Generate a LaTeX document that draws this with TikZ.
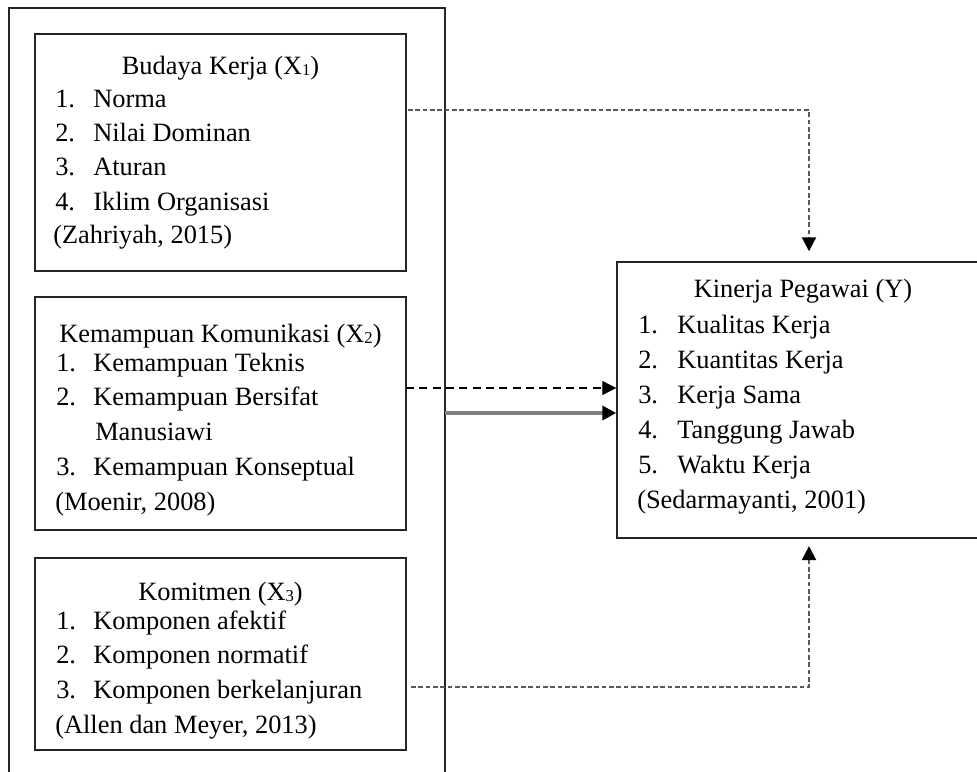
\documentclass[tikz,border=0pt]{standalone}
\usepackage{fontspec}
\setmainfont{Liberation Serif}
\usetikzlibrary{arrows.meta,fit}
\newcommand{\mysub}[1]{{\fontsize{12.5}{12.5}\selectfont\raisebox{-1.2pt}{#1}}}
\begin{document}
\begin{tikzpicture}[x=0.75pt,y=-0.75pt,
  box/.style={draw=black!85,line width=1.1pt,inner sep=0pt,fill=none},
  txt/.style={anchor=base west,inner sep=0pt,font=\fontsize{19.8}{24}\selectfont},
  ttl/.style={anchor=base,inner sep=0pt,font=\fontsize{19.8}{24}\selectfont},
  tip/.style={-{Triangle[length=10.5pt,width=10.5pt,color=black,fill=black]}},
  dense/.style={draw=black!65,line width=1.6pt,dash pattern=on 3.5pt off 2pt},
  mid/.style={draw=black,line width=1pt,dash pattern=on 6pt off 4pt},
  solidgray/.style={draw=black!50,line width=3pt}]
\clip (0,0) rectangle (977,771);
\fill[white] (0,0) rectangle (977,771);
% boxes
\node[box,fit={(9,8) (445,800)}] (outer) {};
\node[box,fit={(35,34) (406,271)}] (b1) {};
\node[box,fit={(35,297) (406,530)}] (b2) {};
\node[box,fit={(35,558) (406,750)}] (b3) {};
\node[box,fit={(617,262) (989,538)}] (Y) {};
% box 1
\node[ttl] (b1t) at (220.5,74) {Budaya Kerja (X\mysub{1})};
\node[txt] (b1n1) at (55,107) {1.}; \node[txt] (b1i1) at (93,107) {Norma};
\node[txt] (b1n2) at (55,141) {2.}; \node[txt] (b1i2) at (93,141) {Nilai Dominan};
\node[txt] (b1n3) at (55,175) {3.}; \node[txt] (b1i3) at (93,175) {Aturan};
\node[txt] (b1n4) at (55,210) {4.}; \node[txt] (b1i4) at (93,210) {Iklim Organisasi};
\node[txt] (b1c) at (53,243) {(Zahriyah, 2015)};
% box 2
\node[ttl] (b2t) at (220.5,342) {Kemampuan Komunikasi (X\mysub{2})};
\node[txt] (b2n1) at (56,371) {1.}; \node[txt] (b2i1) at (93,371) {Kemampuan Teknis};
\node[txt] (b2n2) at (56,405) {2.}; \node[txt] (b2i2) at (93,405) {Kemampuan Bersifat};
\node[txt] (b2i2b) at (95,440) {Manusiawi};
\node[txt] (b2n3) at (56,475) {3.}; \node[txt] (b2i3) at (93,475) {Kemampuan Konseptual};
\node[txt] (b2c) at (55,510) {(Moenir, 2008)};
% box 3
\node[ttl] (b3t) at (220.5,600) {Komitmen (X\mysub{3})};
\node[txt] (b3n1) at (56,629) {1.}; \node[txt] (b3i1) at (93,629) {Komponen afektif};
\node[txt] (b3n2) at (56,663) {2.}; \node[txt] (b3i2) at (93,663) {Komponen normatif};
\node[txt] (b3n3) at (56,698) {3.}; \node[txt] (b3i3) at (93,698) {Komponen berkelanjuran};
\node[txt] (b3c) at (55,733) {(Allen dan Meyer, 2013)};
% Y box
\node[ttl] (Yt) at (803,297) {Kinerja Pegawai (Y)};
\node[txt] (Yn1) at (638,333) {1.}; \node[txt] (Yi1) at (677,333) {Kualitas Kerja};
\node[txt] (Yn2) at (638,368) {2.}; \node[txt] (Yi2) at (677,368) {Kuantitas Kerja};
\node[txt] (Yn3) at (638,403) {3.}; \node[txt] (Yi3) at (677,403) {Kerja Sama};
\node[txt] (Yn4) at (638,438) {4.}; \node[txt] (Yi4) at (677,438) {Tanggung Jawab};
\node[txt] (Yn5) at (638,473) {5.}; \node[txt] (Yi5) at (677,473) {Waktu Kerja};
\node[txt] (Yc) at (637,508) {(Sedarmayanti, 2001)};
% connectors
\coordinate (c1) at (809,110);
\coordinate (c1s) at (408,110);
\draw[dense,tip] (c1s) -- (c1) -- ([yshift=7.5pt]Y.north -| c1);
\coordinate (c2) at (406,388);
\draw[mid,tip] (c2) -- (Y.west |- c2);
\coordinate (c3) at (445,413);
\draw[solidgray,tip] (c3) -- (Y.west |- c3);
\coordinate (c4s) at (411,687);
\coordinate (c4) at (809,687);
\draw[dense,tip] (c4s) -- (c4) -- ([yshift=-5.5pt]Y.south -| c4);
\end{tikzpicture}
\end{document}
